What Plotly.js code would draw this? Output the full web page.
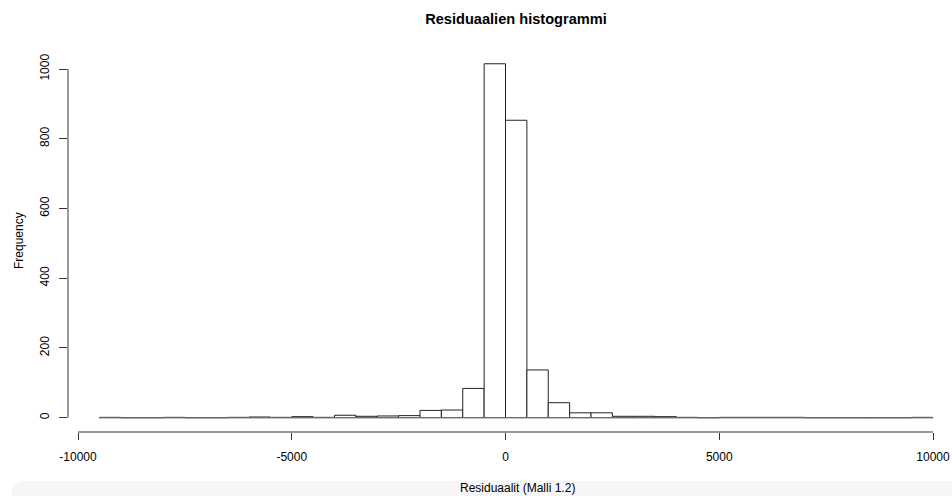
<!DOCTYPE html>
<html>
<head>
<meta charset="utf-8">
<script src="https://cdn.plot.ly/plotly-3.0.1.min.js"></script>
<style>
  html, body { margin: 0; padding: 0; background: #ffffff; }
  #wrap { position: relative; width: 952px; height: 496px; overflow: hidden; }
  #band { position: absolute; left: 12px; top: 481px; width: 940px; height: 15px;
          background: #f6f6f6; border-top-left-radius: 12px; z-index: 0; }
  #chart { position: absolute; left: 0; top: 0; width: 952px; height: 496px; z-index: 1; }
</style>
</head>
<body>
<div id="wrap">
  <div id="band"></div>
  <div id="chart"></div>
</div>
<script>
// Histogram bins (left edges) and counts, bin width 500
const binWidth = 500;
const binStarts = [-9500, -9000, -8500, -8000, -7500, -7000, -6500, -6000, -5500, -5000,
                   -4500, -4000, -3500, -3000, -2500, -2000, -1500, -1000, -500, 0,
                   500, 1000, 1500, 2000, 2500, 3000, 3500, 4000, 4500, 5000,
                   5500, 6000, 6500, 7000, 7500, 8000, 8500, 9000, 9500];
const counts = [1, 0, 0, 1, 0, 0, 1, 2, 1, 3,
                1, 7, 4, 5, 6, 21, 22, 84, 1015, 853,
                137, 43, 14, 14, 4, 4, 3, 1, 0, 1,
                1, 1, 1, 0, 0, 0, 0, 0, 1];
const xTicks = [-10000, -5000, 0, 5000, 10000];
const xTickLabels = ["-10000", "-5000", "0", "5000", "10000"];
const yTicks = [0, 200, 400, 600, 800, 1000];
const yTickLabels = ["0", "200", "400", "600", "800", "1000"];

const centers = binStarts.map(s => s + binWidth / 2);
const lastEdge = binStarts[binStarts.length - 1] + binWidth;

const font = "Liberation Sans, Arial, Helvetica, sans-serif";

const bars = {
  type: "bar",
  x: centers,
  y: counts,
  width: binStarts.map(() => binWidth),
  marker: { color: "#ffffff", line: { color: "#222222", width: 1 } },
  hoverinfo: "x+y",
  showlegend: false
};

// zero-height bins are still outlined in R: baseline along all bins
const baseline = {
  type: "scatter",
  mode: "lines",
  x: [binStarts[0], lastEdge],
  y: [0, 0],
  line: { color: "#777777", width: 1 },
  hoverinfo: "skip",
  showlegend: false
};

const layout = {
  width: 952,
  height: 496,
  margin: { l: 68, r: 1, t: 50, b: 64 },
  paper_bgcolor: "rgba(0,0,0,0)",
  plot_bgcolor: "rgba(0,0,0,0)",
  bargap: 0,
  showlegend: false,
  title: {
    text: "Residuaalien histogrammi",
    font: { family: font, size: 14.6, color: "#000000", weight: "bold" },
    xref: "container", x: 516 / 952, xanchor: "center",
    yref: "container", y: 1 - 18.7 / 496, yanchor: "middle"
  },
  xaxis: {
    range: [-10234, 10421],
    tickmode: "array",
    tickvals: xTicks,
    ticktext: xTickLabels,
    ticks: "outside",
    ticklen: 7,
    tickwidth: 1,
    tickcolor: "#333333",
    ticklabelstandoff: 7,
    showline: false,
    showgrid: false,
    zeroline: false,
    automargin: false,
    tickfont: { family: font, size: 12, color: "#000000" }
  },
  yaxis: {
    range: [-41, 1054.5],
    tickmode: "array",
    tickvals: yTicks,
    ticktext: yTickLabels,
    tickangle: -90,
    ticks: "outside",
    ticklen: 8,
    tickwidth: 1,
    tickcolor: "#333333",
    ticklabelstandoff: 5,
    showline: false,
    showgrid: false,
    zeroline: false,
    automargin: false,
    tickfont: { family: font, size: 12, color: "#000000" }
  },
  shapes: [
    { type: "line", xref: "x", yref: "paper",
      x0: xTicks[0], x1: xTicks[xTicks.length - 1], y0: 0, y1: 0,
      line: { color: "#333333", width: 1 } },
    { type: "line", xref: "paper", yref: "y",
      x0: 0, x1: 0, y0: yTicks[0], y1: yTicks[yTicks.length - 1],
      line: { color: "#333333", width: 1 } }
  ],
  annotations: [
    { text: "Residuaalit (Malli 1.2)", showarrow: false,
      xref: "paper", x: (517 - 68) / 883, xanchor: "center",
      yref: "paper", y: -(488 - 432) / 382, yanchor: "middle",
      font: { family: font, size: 12, color: "#000000" } },
    { text: "Frequency", showarrow: false, textangle: -90,
      xref: "paper", x: -(68 - 19) / 883, xanchor: "center",
      yref: "paper", y: (432 - 241) / 382, yanchor: "middle",
      font: { family: font, size: 12, color: "#000000" } }
  ]
};

Plotly.newPlot("chart", [bars, baseline], layout, { displayModeBar: false, staticPlot: true });
</script>
</body>
</html>
